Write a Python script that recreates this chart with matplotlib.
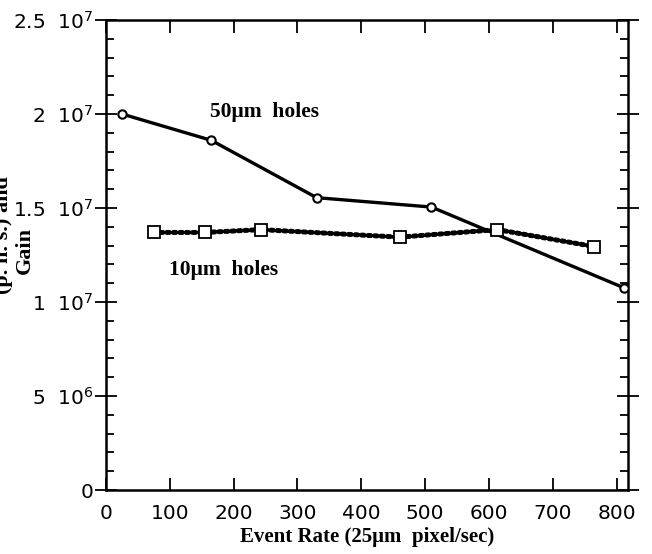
import matplotlib
matplotlib.use("Agg")
import matplotlib.pyplot as plt
from matplotlib.ticker import MultipleLocator, FixedLocator

# data
x50 = [25, 165, 330, 510, 812]
y50 = [2.0e7, 1.86e7, 1.555e7, 1.505e7, 1.075e7]
x10 = [75, 155, 243, 460, 613, 765]
y10 = [1.37e7, 1.37e7, 1.385e7, 1.345e7, 1.385e7, 1.295e7]
xticks = [0, 100, 200, 300, 400, 500, 600, 700, 800]
yticks = [0, 5e6, 1e7, 1.5e7, 2e7, 2.5e7]
ytick_labels = ["0", r"5  $\mathregular{10^6}$", r"1  $\mathregular{10^7}$",
                r"1.5  $\mathregular{10^7}$", r"2  $\mathregular{10^7}$",
                r"2.5  $\mathregular{10^7}$"]
label50 = "50\u03bcm  holes"
label10 = "10\u03bcm  holes"
xlabel = "Event Rate (25\u03bcm  pixel/sec)"

plt.rcParams['font.family'] = ['DejaVu Sans']
fig = plt.figure(figsize=(6.52, 5.54), dpi=100)
ax = fig.add_axes([106/652, 1-490/554, (628-106)/652, (490-20)/554])

ax.plot(x50, y50, color='black', lw=2.4, marker='o', ms=6, mfc='white',
        mec='black', mew=1.5, zorder=3)
ax.plot(x10, y10, color='black', lw=3.6, ls=(0, (0.5, 0.8)),
        dash_capstyle='round', marker='s', ms=8, mfc='white', mec='black',
        mew=1.3, zorder=3)

ax.set_xlim(0, 818)
ax.set_ylim(0, 2.5e7)
ax.xaxis.set_major_locator(FixedLocator(xticks))
ax.set_xticklabels([str(v) for v in xticks])
ax.yaxis.set_major_locator(FixedLocator(yticks))
ax.set_yticklabels(ytick_labels)
ax.yaxis.set_minor_locator(MultipleLocator(1e6))

ax.tick_params(axis='x', which='major', direction='in', length=9, width=1.3,
               top=True, bottom=True, labelsize=14.5, pad=10)
ax.tick_params(axis='y', which='major', direction='inout', length=16, width=1.3,
               left=True, right=True, labelsize=14.5, pad=1)
ax.tick_params(axis='y', which='minor', direction='in', length=6, width=1.3,
               left=True, right=True)
for s in ax.spines.values():
    s.set_linewidth(1.8)

serif = ['Liberation Serif', 'DejaVu Serif']
ax.set_xlabel(xlabel, family=serif, fontweight='bold', fontsize=15, labelpad=3)

ax.text(248, 2.01e7, label50, family=serif, fontweight='bold', fontsize=15.5,
        ha='center', va='center')
ax.text(184, 1.17e7, label10, family=serif, fontweight='bold', fontsize=15.5,
        ha='center', va='center')

fig.text(25/652, 1-250/554, "Gain", family=serif, fontweight='bold', fontsize=16,
         rotation=90, ha='center', va='center')
fig.text(3/652, 1-235/554, "(p. h. s.) and", family=serif, fontweight='bold',
         fontsize=16, rotation=90, ha='center', va='center')

fig.savefig("out.png", dpi=100)
